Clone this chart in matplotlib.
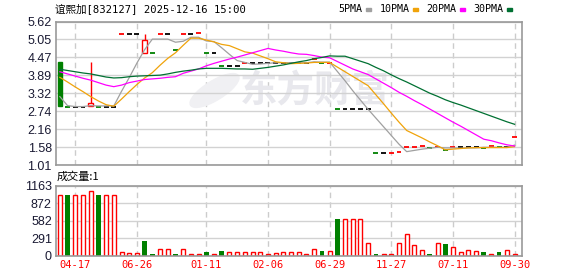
import numpy as np
import matplotlib
matplotlib.use("Agg")
import matplotlib.pyplot as plt
from matplotlib.patches import Rectangle, Ellipse

W, H = 578, 276

title = "谊熙加[832127] 2025-12-16 15:00"
vol_title = "成交量:1"
watermark = "东方财富"

# x axis labels (bar index -> date)
date_pos = [2, 10, 19, 27, 35, 43, 51, 59]
date_labels = ["04-17", "06-26", "01-11", "02-06", "06-29", "11-27", "07-11", "09-30"]

price_ticks = [1.01, 1.58, 2.16, 2.74, 3.32, 3.89, 4.47, 5.05, 5.62]
vol_ticks = [0, 291, 582, 872, 1163]

# closing prices per bar
closes = [2.92, 2.89, 2.89, 2.89, 2.99, 2.89, 2.89, 2.89, 5.22, 5.22,
          5.22, 5.03, 4.60, 5.22, 5.22, 4.71, 5.22, 5.22, 5.25, 4.60,
          4.60, 4.21, 4.21, 4.21, 4.30, 4.30, 4.30, 4.30, 4.30, 4.30,
          4.30, 4.30, 4.30, 4.43, 4.28, 4.30, 2.80, 2.80, 2.80, 2.80,
          2.80, 1.39, 1.39, 1.41, 1.42, 1.58, 1.59, 1.61, 1.55, 1.58,
          1.48, 1.58, 1.58, 1.58, 1.58, 1.57, 1.61, 1.58, 1.58, 1.90]

# the few bars that have a real body / wick
body_idx = [0, 4, 11]
body_open = [4.31, 2.92, 4.62]
body_high = [4.31, 4.31, 5.22]
body_low = [2.92, 2.92, 4.62]

volumes = [1015, 1015, 1015, 1015, 1077, 1015, 1015, 1015, 59, 42,
           42, 243, 30, 109, 109, 30, 109, 25, 25, 64,
           25, 80, 59, 59, 59, 59, 59, 25, 42, 53,
           53, 53, 25, 109, 75, 75, 612, 610, 610, 610,
           205, 25, 25, 25, 205, 355, 176, 92, 25, 205,
           193, 137, 53, 92, 75, 59, 25, 59, 92, 25]

ma5 = [3.21, 2.92, 2.89, 2.89, 2.92, 2.91, 2.91, 2.91, 3.38, 3.82,
       4.29, 4.72, 5.06, 5.06, 5.06, 4.96, 4.99, 5.12, 5.12, 5.00,
       4.98, 4.78, 4.57, 4.37, 4.31, 4.25, 4.26, 4.28, 4.30, 4.30,
       4.30, 4.30, 4.30, 4.33, 4.32, 4.32, 4.02, 3.72, 3.40, 3.10,
       2.80, 2.52, 2.24, 1.96, 1.68, 1.44, 1.48, 1.52, 1.55, 1.58,
       1.56, 1.56, 1.55, 1.56, 1.56, 1.58, 1.58, 1.58, 1.58, 1.65]
ma10 = [3.83, 3.68, 3.52, 3.37, 3.21, 3.07, 2.95, 2.90, 3.13, 3.37,
        3.60, 3.81, 3.98, 4.22, 4.44, 4.62, 4.86, 5.09, 5.09, 5.03,
        4.97, 4.89, 4.85, 4.75, 4.65, 4.61, 4.52, 4.43, 4.33, 4.30,
        4.27, 4.28, 4.29, 4.31, 4.31, 4.31, 4.16, 4.01, 3.86, 3.71,
        3.56, 3.27, 2.98, 2.68, 2.39, 2.12, 2.00, 1.88, 1.75, 1.63,
        1.50, 1.52, 1.54, 1.56, 1.57, 1.57, 1.57, 1.57, 1.57, 1.60]
ma20 = [4.01, 3.94, 3.87, 3.80, 3.74, 3.66, 3.58, 3.53, 3.58, 3.66,
        3.71, 3.76, 3.78, 3.80, 3.83, 3.85, 3.96, 4.03, 4.10, 4.20,
        4.28, 4.35, 4.42, 4.48, 4.55, 4.62, 4.69, 4.76, 4.71, 4.67,
        4.62, 4.58, 4.57, 4.53, 4.48, 4.46, 4.34, 4.22, 4.10, 4.01,
        3.92, 3.78, 3.64, 3.50, 3.35, 3.22, 3.08, 2.95, 2.81, 2.67,
        2.53, 2.39, 2.26, 2.12, 1.98, 1.84, 1.79, 1.72, 1.66, 1.62]
ma30 = [4.09, 4.05, 4.01, 3.97, 3.94, 3.89, 3.84, 3.81, 3.82, 3.85,
        3.87, 3.88, 3.89, 3.90, 3.94, 3.99, 4.03, 4.06, 4.10, 4.12,
        4.12, 4.12, 4.11, 4.10, 4.10, 4.09, 4.12, 4.15, 4.19, 4.23,
        4.28, 4.33, 4.37, 4.43, 4.47, 4.52, 4.51, 4.51, 4.43, 4.35,
        4.27, 4.15, 4.04, 3.91, 3.79, 3.68, 3.56, 3.44, 3.32, 3.22,
        3.11, 3.02, 2.94, 2.85, 2.76, 2.67, 2.58, 2.49, 2.40, 2.32]

ma_names = ["5PMA", "10PMA", "20PMA", "30PMA"]
ma_colors = ["#a0a0a0", "#f0a30a", "#ff00ff", "#007032"]

RED, GREEN = "#ff0000", "#008000"
MONO = ["DejaVu Sans Mono", "Noto Sans CJK SC"]

x = np.arange(len(closes))
close = np.array(closes)
prev = np.r_[close[0], close[:-1]]

fig = plt.figure(figsize=(W / 100, H / 100), dpi=100)
ax = fig.add_axes([56 / W, 1 - 165 / H, 466.3 / W, 143.3 / H])
axv = fig.add_axes([56 / W, 1 - 255.5 / H, 466.3 / W, 69.8 / H])

for a in (ax, axv):
    a.set_xlim(-0.5, 60.0)
    for p in date_pos:
        a.axvline(p, color="#cccccc", lw=1, ls=(0, (4, 3)), zorder=0)
    a.grid(axis="y", color="#d2d2d2", lw=1, zorder=0)
    a.set_axisbelow(True)
    for s in a.spines.values():
        s.set_color("#999999")
        s.set_linewidth(1.2)
    a.tick_params(length=0, pad=3)

# price panel
ax.set_ylim(price_ticks[0], price_ticks[-1])
ax.set_yticks(price_ticks)
ax.set_yticklabels(["%.2f" % v for v in price_ticks], fontsize=9,
                   family="Liberation Sans", color="#1a1a33")
ax.set_xticks(date_pos)
ax.set_xticklabels([])

# watermark
ax.add_patch(Ellipse((0.34, 0.52), 0.065, 0.25, angle=-20,
                     transform=ax.transAxes, color="#f0f0f3", zorder=0.5))
ax.text(0.395, 0.52, watermark, transform=ax.transAxes, fontsize=27,
        family="Noto Sans CJK SC", weight="bold", color="#e8e8ed",
        ha="left", va="center", zorder=0.5)

# dojis as short dashes
doji = np.array([i not in body_idx for i in x])
dcol = np.where(close > prev, RED, np.where(close < prev, GREEN, "black"))
ax.hlines(close[doji], x[doji] - 0.32, x[doji] + 0.32, colors=dcol[doji],
          lw=1.3, zorder=2)

# bodies with wicks
for i, o, hi, lo in zip(body_idx, body_open, body_high, body_low):
    c = closes[i]
    col = RED if c >= o else GREEN
    ax.vlines(i, lo, hi, color=col, lw=1, zorder=2)
    ax.add_patch(Rectangle((i - 0.29, min(o, c)), 0.58, abs(c - o),
                           facecolor="white" if c >= o else col,
                           edgecolor=col, lw=1, zorder=2.1))

for vals, col in zip([ma5, ma10, ma20, ma30], ma_colors):
    ax.plot(x, vals, color=col, lw=0.9, zorder=3)

# volume panel
vol = np.array(volumes)
up = close >= prev
axv.set_ylim(0, vol_ticks[-1])
axv.set_yticks(vol_ticks)
axv.set_yticklabels([str(v) for v in vol_ticks], fontsize=9,
                    family="Liberation Sans", color="#1a1a33")
axv.bar(x[up], vol[up], width=0.52, facecolor="white", edgecolor=RED, lw=1, zorder=2)
axv.bar(x[~up], vol[~up], width=0.6, color=GREEN, lw=0, zorder=2)
axv.set_xticks(date_pos)
axv.set_xticklabels(date_labels, fontsize=7.5, family="DejaVu Sans Mono", color=RED)

# header texts
fig.text(55 / W, 1 - 9 / H, title, family=MONO, fontsize=7.6, va="center", ha="left")
fig.text(57 / W, 1 - 177 / H, vol_title, family=["Noto Sans CJK SC"], fontsize=8,
         va="center", ha="left")

# legend along the top right
lx = 338.7
for name, col in zip(ma_names, ma_colors):
    fig.text(lx / W, 1 - 9 / H, name, family=MONO, fontsize=7.2, va="center", ha="left")
    lx += len(name) * 6.0 + 3
    fig.patches.append(Rectangle((lx / W, 1 - 10.8 / H), 5 / W, 2.6 / H,
                                 transform=fig.transFigure, color=col))
    lx += 14

fig.savefig("out.png", dpi=100)
